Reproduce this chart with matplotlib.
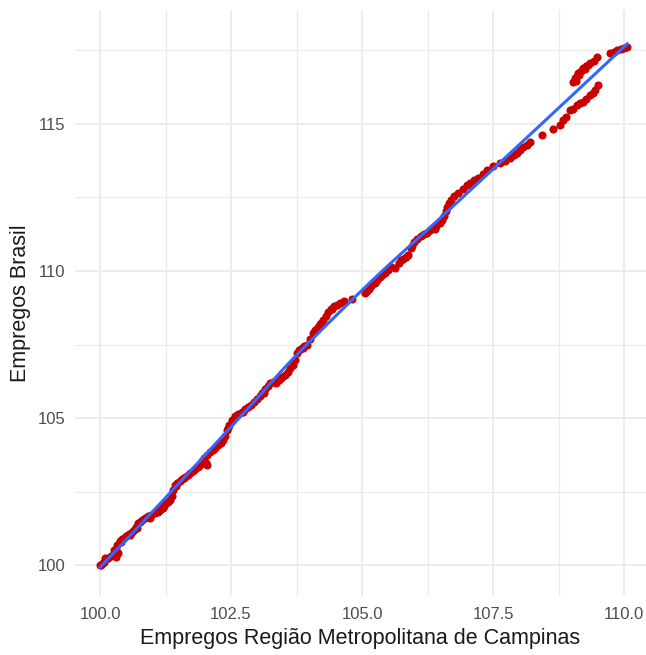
import numpy as np
import matplotlib
matplotlib.use("Agg")
import matplotlib.pyplot as plt
from matplotlib.ticker import MultipleLocator

plt.rcParams['font.family'] = ['Liberation Sans', 'DejaVu Sans']

# Employment indexes (base = 100)
emp_campinas = [
    100.00, 100.02, 100.05, 100.08, 100.12, 100.16, 100.20, 100.24, 100.30, 100.34,
    100.30, 100.33, 100.38, 100.42, 100.46, 100.50, 100.55, 100.60, 100.64, 100.68,
    100.72, 100.76, 100.80, 100.86, 100.92, 100.98, 101.04, 101.10, 101.14, 101.18,
    101.22, 101.26, 101.30, 101.34, 101.37, 101.40, 101.43, 101.47, 101.52, 101.57,
    101.62, 101.67, 101.72, 101.77, 101.81, 101.86, 101.90, 102.04, 102.02, 101.95,
    101.99, 102.05, 102.10, 102.16, 102.20, 102.25, 102.30, 102.35, 102.39, 102.43,
    102.47, 102.52, 102.58, 102.64, 102.70, 102.76, 102.82, 102.88, 102.94, 103.00,
    103.05, 103.10, 103.15, 103.20, 103.24, 103.30, 103.36, 103.42, 103.48, 103.53,
    103.58, 103.63, 103.68, 103.72, 103.76, 103.80, 103.85, 103.90, 103.95, 104.00,
    104.06, 104.10, 104.15, 104.20, 104.26, 104.31, 104.35, 104.40, 104.46, 104.52,
    104.58, 104.66, 104.80, 105.06, 105.10, 105.14, 105.18, 105.24, 105.29, 105.34,
    105.39, 105.44, 105.50, 105.56, 105.63, 105.70, 105.74, 105.78, 105.83, 105.88,
    105.94, 106.00, 106.05, 106.12, 106.18, 106.24, 106.30, 106.36, 106.42, 106.48,
    106.52, 106.56, 106.60, 106.63, 106.66, 106.70, 106.76, 106.84, 106.93, 107.00,
    107.06, 107.14, 107.21, 107.30, 107.39, 107.50, 107.63, 107.72, 107.82, 107.90,
    107.96, 108.02, 108.07, 108.14, 108.21, 108.44, 108.65, 108.78, 108.84, 108.90,
    108.97, 109.03, 109.10, 109.16, 109.22, 109.28, 109.35, 109.40, 109.45, 109.50,
    109.03, 109.06, 109.10, 109.12, 109.17, 109.22, 109.28, 109.35, 109.42, 109.48,
    109.73, 109.80, 109.87, 109.95, 110.00, 110.06,
    100.10, 100.26, 100.40, 100.58, 100.70, 100.95, 101.20, 101.45, 101.60, 102.28,
    102.45, 102.72, 103.12, 103.45, 103.88, 104.22, 104.42, 105.96, 106.40, 109.08,
    109.14, 109.25, 109.32,
]
emp_brasil = [
    100.00, 100.02, 100.06, 100.12, 100.20, 100.26, 100.30, 100.36, 100.28, 100.40,
    100.55, 100.70, 100.82, 100.88, 100.93, 100.98, 101.05, 101.12, 101.20, 101.30,
    101.42, 101.48, 101.52, 101.60, 101.68, 101.72, 101.76, 101.80, 101.86, 101.94,
    102.02, 102.10, 102.16, 102.22, 102.36, 102.55, 102.72, 102.80, 102.86, 102.92,
    103.00, 103.08, 103.14, 103.20, 103.26, 103.34, 103.42, 103.40, 103.48, 103.55,
    103.66, 103.76, 103.84, 103.90, 103.98, 104.08, 104.16, 104.25, 104.40, 104.58,
    104.78, 104.95, 105.06, 105.14, 105.22, 105.30, 105.38, 105.46, 105.56, 105.66,
    105.74, 105.84, 105.98, 106.10, 106.20, 106.24, 106.20, 106.30, 106.40, 106.48,
    106.58, 106.70, 106.82, 106.98, 107.20, 107.30, 107.38, 107.44, 107.50, 107.68,
    107.88, 107.98, 108.08, 108.20, 108.34, 108.48, 108.60, 108.70, 108.80, 108.86,
    108.92, 108.98, 109.05, 109.25, 109.32, 109.40, 109.50, 109.60, 109.69, 109.78,
    109.86, 109.93, 110.02, 110.12, 110.10, 110.28, 110.36, 110.40, 110.48, 110.54,
    110.78, 111.00, 111.10, 111.18, 111.26, 111.30, 111.38, 111.46, 111.54, 111.64,
    111.74, 111.86, 112.05, 112.16, 112.30, 112.42, 112.56, 112.66, 112.80, 112.92,
    112.99, 113.08, 113.16, 113.30, 113.44, 113.56, 113.67, 113.74, 113.84, 113.94,
    114.01, 114.12, 114.22, 114.30, 114.39, 114.63, 114.83, 114.97, 115.14, 115.25,
    115.48, 115.52, 115.65, 115.70, 115.75, 115.86, 115.99, 116.06, 116.16, 116.33,
    116.43, 116.55, 116.62, 116.73, 116.80, 116.90, 116.98, 117.07, 117.15, 117.28,
    117.41, 117.45, 117.52, 117.55, 117.58, 117.62,
    100.24, 100.50, 100.78, 101.02, 101.26, 101.62, 101.96, 102.70, 102.95, 104.14,
    104.66, 105.22, 105.86, 106.36, 107.40, 108.22, 108.70, 110.86, 111.44, 116.46,
    116.66, 116.86, 117.00,
]

x_ticks = [100.0, 102.5, 105.0, 107.5, 110.0]
y_ticks = [100, 105, 110, 115]
x_title = "Empregos Região Metropolitana de Campinas"
y_title = "Empregos Brasil"


def loess(x, y, grid, span=0.75):
    """Local quadratic regression with tricube weights."""
    x = np.asarray(x, float)
    y = np.asarray(y, float)
    q = int(np.ceil(span * len(x)))
    out = []
    for x0 in grid:
        d = np.abs(x - x0)
        h = np.sort(d)[q - 1]
        w = np.clip(1 - (d / h) ** 3, 0, None) ** 3
        X = np.column_stack([np.ones_like(x), x - x0, (x - x0) ** 2])
        W = np.sqrt(w)
        beta, *_ = np.linalg.lstsq(X * W[:, None], y * W, rcond=None)
        out.append(beta[0])
    return np.array(out)


fig = plt.figure(figsize=(6.46, 6.55), dpi=100)
ax = fig.add_axes([0.116, 0.090, 0.884, 0.895])

grid_color = "#EBEBEB"
ax.xaxis.set_major_locator(MultipleLocator(2.5))
ax.xaxis.set_minor_locator(MultipleLocator(1.25))
ax.yaxis.set_major_locator(MultipleLocator(5))
ax.yaxis.set_minor_locator(MultipleLocator(2.5))
ax.grid(which="major", color=grid_color, linewidth=1.3)
ax.grid(which="minor", color=grid_color, linewidth=0.9)
ax.set_axisbelow(True)
for s in ax.spines.values():
    s.set_visible(False)
ax.tick_params(which="both", length=0)
ax.tick_params(axis="x", pad=8, labelsize=12, labelcolor="#4D4D4D")
ax.tick_params(axis="y", pad=7, labelsize=12, labelcolor="#4D4D4D")

ax.scatter(emp_campinas, emp_brasil, s=34, color="#C80000", linewidths=0, zorder=2)

xs = np.linspace(min(emp_campinas), max(emp_campinas), 120)
ax.plot(xs, loess(emp_campinas, emp_brasil, xs), color="#3366FF", linewidth=2.2, zorder=3)

ax.set_xticks(x_ticks)
ax.set_xticklabels([f"{v:.1f}" for v in x_ticks])
ax.set_yticks(y_ticks)
ax.set_yticklabels([str(v) for v in y_ticks])
ax.set_xlim(99.52, 110.42)
ax.set_ylim(98.95, 118.88)

ax.set_xlabel(x_title, fontsize=15.5, color="#1A1A1A", labelpad=4)
ax.set_ylabel(y_title, fontsize=15.5, color="#1A1A1A", labelpad=5)

fig.savefig("out.png", dpi=100)
